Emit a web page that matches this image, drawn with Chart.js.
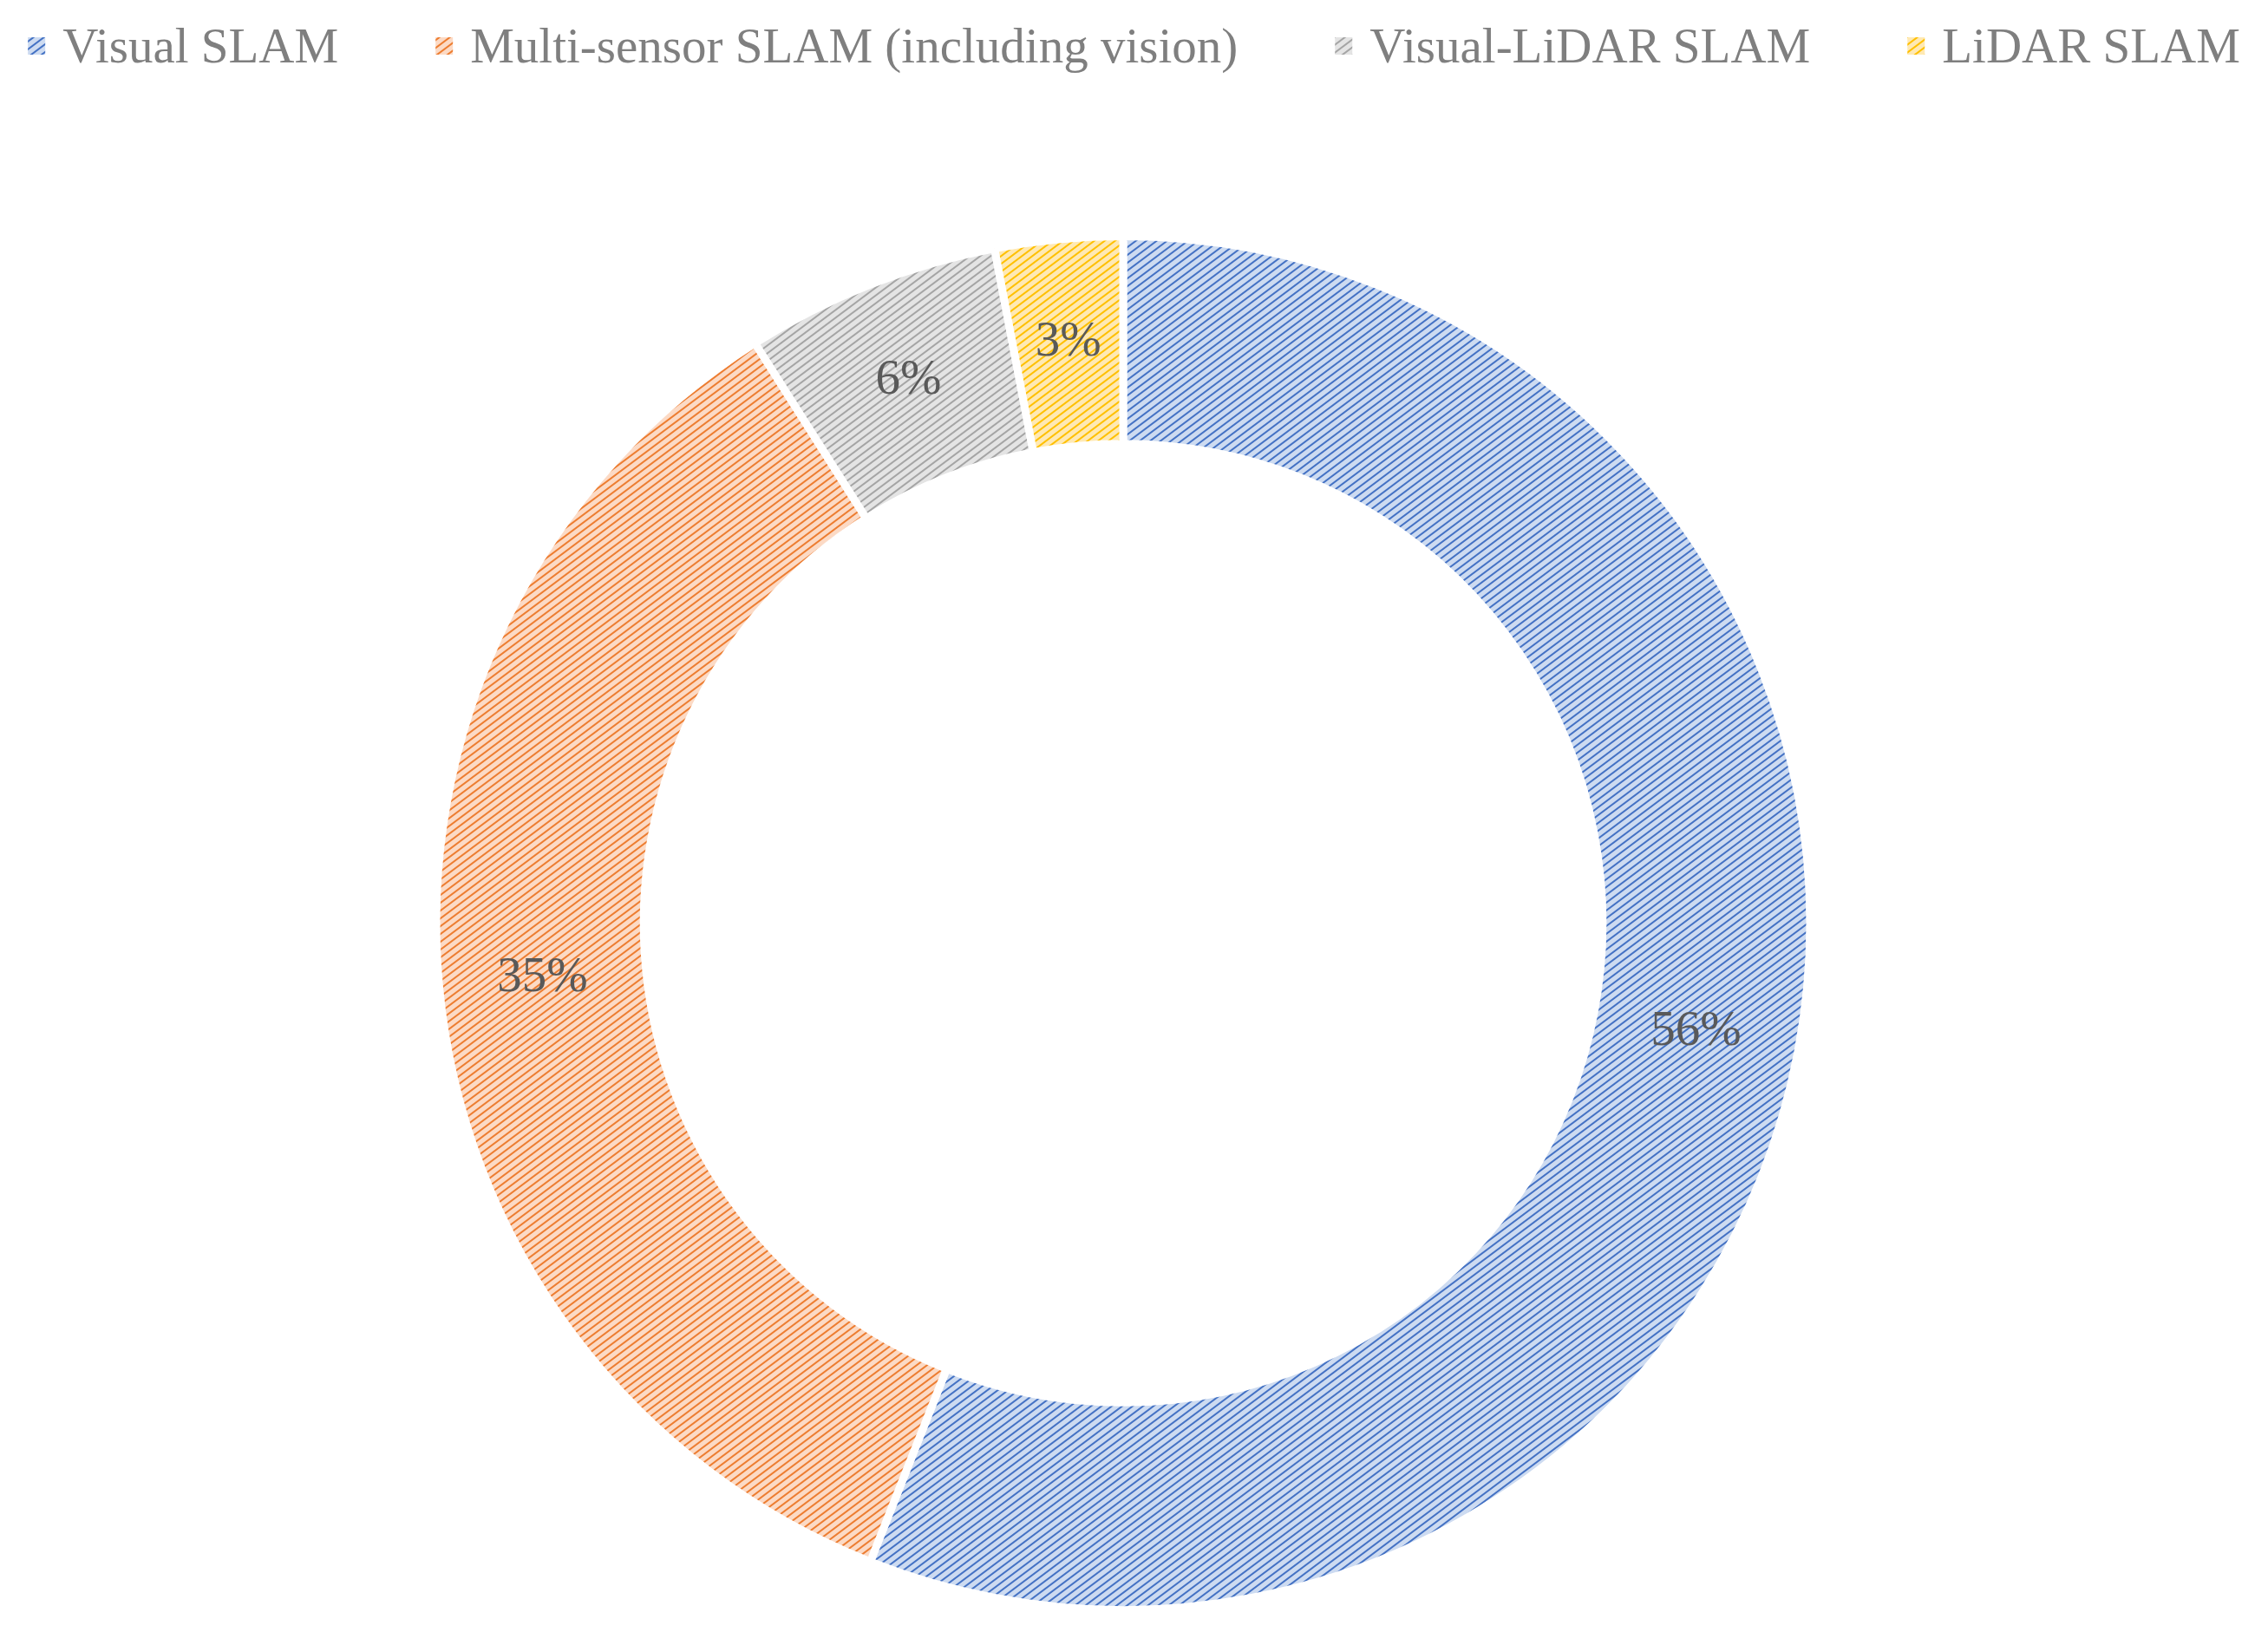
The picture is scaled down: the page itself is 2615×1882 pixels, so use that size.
<!DOCTYPE html>
<html>
<head>
<meta charset="utf-8">
<script src="https://cdn.jsdelivr.net/npm/chart.js@4.4.0/dist/chart.umd.min.js"></script>
<style>
  html, body { margin: 0; padding: 0; background: #ffffff; }
  #wrap { width: 2615px; height: 1882px; position: relative; }
</style>
</head>
<body>
<div id="wrap"><canvas id="c" width="2615" height="1882"></canvas></div>
<script>
const categories = ["Visual SLAM", "Multi-sensor SLAM (including vision)", "Visual-LiDAR SLAM", "LiDAR SLAM"];
const shares = [56, 35, 6, 3];
const valueLabels = ["56%", "35%", "6%", "3%"];
const lineColors = ["#4472c4", "#ed7d31", "#a5a5a5", "#ffc000"];
const bgColors = ["#cddbf1", "#fcdac5", "#e4e4e4", "#ffe9b3"];

function makePattern(bg, line) {
  const w = 12, h = 9;
  const tile = document.createElement('canvas');
  tile.width = w; tile.height = h;
  const t = tile.getContext('2d');
  t.fillStyle = bg;
  t.fillRect(0, 0, w, h);
  t.strokeStyle = line;
  t.lineWidth = 2.0;
  t.beginPath();
  t.moveTo(-w, h * 2); t.lineTo(w * 2, -h);
  t.moveTo(-w, h); t.lineTo(w, -h);
  t.moveTo(0, h * 2); t.lineTo(w * 2, 0);
  t.stroke();
  const ctx = document.createElement('canvas').getContext('2d');
  return ctx.createPattern(tile, 'repeat');
}

const patterns = bgColors.map((b, i) => makePattern(b, lineColors[i]));

const legendFont = '57px "Liberation Serif", "Times New Roman", serif';
const customLegend = {
  id: 'customLegend',
  afterDraw(chart) {
    const ctx = chart.ctx;
    ctx.save();
    ctx.font = legendFont;
    const box = 20, gapBox = 20, gapItem = 112;
    const widths = categories.map(c => ctx.measureText(c).width);
    const total = widths.reduce((a, b) => a + b, 0) + categories.length * (box + gapBox) + (categories.length - 1) * gapItem;
    let x = (chart.width - total) / 2;
    const boxTop = 43, baseline = 72;
    categories.forEach((c, i) => {
      ctx.fillStyle = patterns[i];
      ctx.fillRect(x, boxTop, box, box);
      ctx.fillStyle = '#7f7f7f';
      ctx.textBaseline = 'alphabetic';
      ctx.textAlign = 'left';
      ctx.fillText(c, x + box + gapBox, baseline);
      x += box + gapBox + widths[i] + gapItem;
    });
    ctx.restore();
  }
};

const sliceLabels = {
  id: 'sliceLabels',
  afterDatasetsDraw(chart) {
    const ctx = chart.ctx;
    const meta = chart.getDatasetMeta(0);
    ctx.save();
    ctx.font = '57px "Liberation Serif", "Times New Roman", serif';
    ctx.fillStyle = '#595959';
    ctx.textAlign = 'center';
    ctx.textBaseline = 'middle';
    meta.data.forEach((arc, i) => {
      const p = arc.tooltipPosition();
      ctx.fillText(valueLabels[i], p.x, p.y);
    });
    ctx.restore();
  }
};

new Chart(document.getElementById('c'), {
  type: 'doughnut',
  data: {
    labels: categories,
    datasets: [{
      data: shares,
      backgroundColor: patterns,
      borderColor: '#ffffff',
      borderWidth: 9
    }]
  },
  options: {
    responsive: false,
    animation: false,
    cutout: '69.8%',
    layout: { padding: { top: 268, bottom: 21, left: 0, right: 25 } },
    plugins: {
      legend: { display: false },
      tooltip: { enabled: false }
    }
  },
  plugins: [customLegend, sliceLabels]
});
</script>
</body>
</html>
